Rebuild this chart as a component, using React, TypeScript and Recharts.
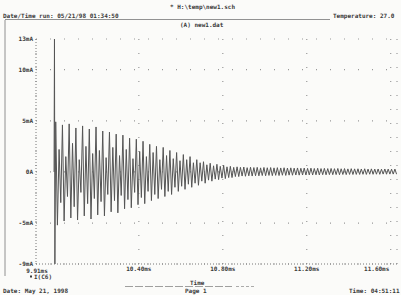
import React from 'react';
import { LineChart, Line, XAxis, YAxis, CartesianGrid } from 'recharts';

// Time in ms
const TIMES = [
  9.996, 9.998, 10.0,
  10.004,10.012,10.020,10.028,10.036,10.044,10.052,10.060,10.068,10.076,
  10.084,10.092,10.100,10.108,10.116,10.124,10.132,10.140,10.148,10.156,
  10.164,10.172,10.180,10.188,10.196,10.204,10.212,10.220,10.228,10.236,
  10.244,10.252,10.260,10.268,10.276,10.284,10.292,10.300,10.308,10.316,
  10.324,10.332,10.340,10.348,10.356,10.364,10.372,10.380,10.388,10.396,
  10.404,10.412,10.420,10.428,10.436,10.444,10.452,10.460,10.468,10.476,
  10.484,10.492,10.500,10.508,10.516,10.524,10.532,10.540,10.548,10.556,
  10.564,10.572,10.580,10.588,10.596,10.604,10.612,10.620,10.628,10.636,
  10.644,10.652,10.660,10.668,10.676,10.684,10.692,10.700,10.708,10.716,
  10.724,10.732,10.740,10.748,10.756,10.764,10.772,10.780,10.788,10.796,
  10.804,10.812,10.820,10.828,10.836,10.844,10.852,10.860,10.868,10.876,
  10.884,10.892,10.900,10.908,10.916,10.924,10.932,10.940,10.948,10.956,
  10.964,10.972,10.980,10.988,10.996,11.004,11.012,11.020,11.028,11.036,
  11.044,11.052,11.060,11.068,11.076,11.084,11.092,11.100,11.108,11.116,
  11.124,11.132,11.140,11.148,11.156,11.164,11.172,11.180,11.188,11.196,
  11.204,11.212,11.220,11.228,11.236,11.244,11.252,11.260,11.268,11.276,
  11.284,11.292,11.300,11.308,11.316,11.324,11.332,11.340,11.348,11.356,
  11.364,11.372,11.380,11.388,11.396,11.404,11.412,11.420,11.428,11.436,
  11.444,11.452,11.460,11.468,11.476,11.484,11.492,11.500,11.508,11.516,
  11.524,11.532,11.540,11.548,11.556,11.564,11.572,11.580,11.588,11.596,
  11.604,11.612,11.620,11.628,
];

// I(C6) in mA
const CURRENT = [
  0, 13, -9,
  4.9,-5.2, 2.2,-3.0, 4.6,-4.8, 1.5,-2.4, 4.7,-4.5,
  2.8,-3.4, 4.3,-4.7, 1.2,-2.0, 4.5,-4.3, 2.5,-3.1,
  4.2,-4.6, 1.8,-2.6, 4.4,-4.2, 2.1,-2.9, 4.0,-4.3,
  1.4,-2.2, 3.9,-3.9, 2.4,-2.8, 3.7,-4.0, 1.6,-2.3,
  3.6,-3.6, 2.2,-2.7, 3.3,-3.5, 1.3,-2.0, 3.2,-3.2,
  2.0,-2.5, 3.0,-3.1, 1.5,-1.9, 2.7,-2.8, 1.9,-2.2,
  2.5,-2.6, 1.2,-1.7, 2.4,-2.4, 1.6,-1.9, 2.1,-2.2,
  1.3,-1.5, 1.9,-1.9, 1.1,-1.4, 1.7,-1.7, 1.2,-1.2,
  1.5,-1.5, 0.9,-1.1, 1.2,-1.3, 0.9,-0.9, 1.0,-1.1,
  0.7,-0.8, 0.85,-0.9, 0.6,-0.7, 0.75,-0.75, 0.55,-0.6,
  0.65,-0.65, 0.5,-0.55, 0.55,-0.55, 0.45,-0.45, 0.5,-0.45,
  0.45,-0.4, 0.48,-0.42, 0.42,-0.38, 0.46,-0.4, 0.43,-0.37,
  0.45,-0.38, 0.4,-0.35, 0.44,-0.37, 0.41,-0.34, 0.43,-0.36,
  0.4,-0.33, 0.42,-0.35, 0.39,-0.32, 0.41,-0.34, 0.38,-0.31,
  0.4,-0.32, 0.37,-0.3, 0.39,-0.31, 0.36,-0.3, 0.38,-0.3,
  0.35,-0.29, 0.37,-0.3, 0.34,-0.28, 0.36,-0.29, 0.33,-0.27,
  0.35,-0.28, 0.33,-0.26, 0.34,-0.27, 0.32,-0.26, 0.34,-0.27,
  0.31,-0.25, 0.33,-0.26, 0.3,-0.24, 0.32,-0.25, 0.3,-0.24,
  0.31,-0.24, 0.29,-0.23, 0.31,-0.24, 0.28,-0.22, 0.3,-0.23,
  0.28,-0.22, 0.29,-0.23, 0.27,-0.21, 0.29,-0.22, 0.28,-0.21,
  0.27,-0.21, 0.28,-0.22,
];

const X_TICKS = [9.91, 10.4, 10.8, 11.2, 11.6];
const X_TICK_LABELS = ['9.91ms', '10.40ms', '10.80ms', '11.20ms', '11.60ms'];
const Y_TICKS = [-9, -5, 0, 5, 10, 13];
const Y_TICK_LABELS = ['-9mA', '-5mA', '0A', '5mA', '10mA', '13mA'];

const data = TIMES.map((t, idx) => ({ t, ic6: CURRENT[idx] }));

const MONO = '"DejaVu Sans Mono", "Liberation Mono", monospace';
const INK = '#3a3a3a';

const XTick = (props: any) => {
  const { x, y, payload, index } = props;
  const i = X_TICKS.indexOf(payload.value);
  const dx = index === X_TICKS.length - 1 ? -14 : index === 0 ? 1 : 0;
  const dy = index === 0 ? 2 : 0;
  return (
    <text x={x + dx} y={y + dy} dy="0.71em" textAnchor="middle" fontSize={6} fontFamily={MONO} fontWeight="bold" fill={INK}>
      {X_TICK_LABELS[i >= 0 ? i : index]}
    </text>
  );
};

const YTick = (props: any) => {
  const { x, y, payload } = props;
  const i = Y_TICKS.indexOf(payload.value);
  return (
    <text x={x} y={y} dy="0.35em" textAnchor="end" fontSize={6} fontFamily={MONO} fontWeight="bold" fill={INK}>
      {Y_TICK_LABELS[i]}
    </text>
  );
};

const txt = { fontFamily: MONO, fontSize: 6, fontWeight: 'bold' as const, fill: INK };

export default function App() {
  return (
    <div style={{ position: 'fixed', left: 0, top: 0, width: 401, height: 295, background: '#fbfbf9', overflow: 'hidden' }}>
      <LineChart width={401} height={295} data={data} margin={{ top: 39, right: 4, bottom: 0, left: 0 }}>
        <CartesianGrid stroke="#999" strokeWidth={1.2} strokeDasharray="1 13" />
        <XAxis
          dataKey="t"
          type="number"
          domain={[9.91, 11.63]}
          allowDataOverflow
          ticks={X_TICKS}
          height={31}
          tickSize={0}
          tickMargin={3}
          tickLine={false}
          axisLine={{ stroke: '#777', strokeDasharray: '1 2' }}
          tick={<XTick />}
          interval={0}
        />
        <YAxis
          type="number"
          domain={[-9, 13]}
          allowDataOverflow
          ticks={Y_TICKS}
          width={36}
          tickSize={0}
          tickMargin={3}
          tickLine={false}
          axisLine={{ stroke: '#777', strokeDasharray: '1 2' }}
          tick={<YTick />}
          interval={0}
        />
        <Line type="linear" dataKey="ic6" stroke="#555" strokeWidth={1} dot={false} isAnimationActive={false} />
      </LineChart>
      <svg width={401} height={295} style={{ position: 'absolute', left: 0, top: 0, pointerEvents: 'none' }}>
        <text x={170} y={9} {...txt}>* H:\temp\new1.sch</text>
        <text x={3} y={18} {...txt}>Date/Time run: 05/21/98 01:34:50</text>
        <text x={333} y={18} {...txt}>Temperature: 27.0</text>
        <line x1={5} y1={19.5} x2={330} y2={19.5} stroke="#777" strokeWidth={0.8} />
        <text x={180} y={26.5} {...txt}>(A) new1.dat</text>
        <line x1={5} y1={20} x2={5} y2={276} stroke="#777" strokeWidth={0.8} />
        <rect x={30} y={275.5} width={2} height={2} fill={INK} />
        <text x={34} y={279} {...txt}>I(C6)</text>
        <text x={3} y={293} {...txt}>Date: May 21, 1998</text>
        <text x={190} y={285} {...txt}>Time</text>
        <line x1={125} y1={286.5} x2={232} y2={286.5} stroke="#777" strokeWidth={0.7} strokeDasharray="8 2" />
        <line x1={236} y1={286.5} x2={254} y2={286.5} stroke="#888" strokeWidth={0.7} strokeDasharray="3 2" />
        <text x={185} y={293} {...txt}>Page 1</text>
        <text x={349} y={293} {...txt}>Time: 04:51:11</text>
      </svg>
    </div>
  );
}
